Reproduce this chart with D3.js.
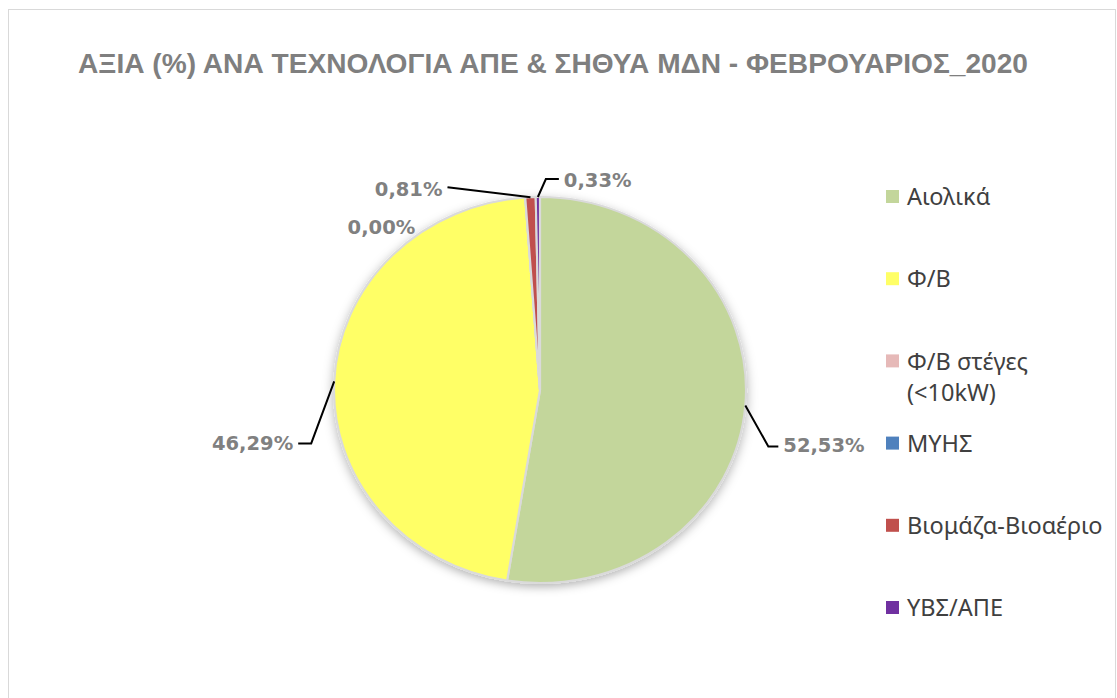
<!DOCTYPE html>
<html>
<head>
<meta charset="utf-8">
<script src="https://cdn.jsdelivr.net/npm/d3@7"></script>
<style>
  body { margin: 0; background: #fff; }
  svg { display: block; }
</style>
</head>
<body>
<script>
// data
var categories = ["Αιολικά", "Φ/Β", "Φ/Β στέγες (<10kW)", "ΜΥΗΣ", "Βιομάζα-Βιοαέριο", "ΥΒΣ/ΑΠΕ"];
var legendLines = [["Αιολικά"], ["Φ/Β"], ["Φ/Β στέγες", "(<10kW)"], ["ΜΥΗΣ"], ["Βιομάζα-Βιοαέριο"], ["ΥΒΣ/ΑΠΕ"]];
var values = [52.53, 46.29, 0.00, 0.00, 0.81, 0.33];
var labelText = ["52,53%", "46,29%", "0,00%", null, "0,81%", "0,33%"];
var colors = ["#c3d69b", "#ffff66", "#e6b9b8", "#4f81bd", "#c0504d", "#7030a0"];
var title = "ΑΞΙΑ (%) ΑΝΑ ΤΕΧΝΟΛΟΓΙΑ ΑΠΕ & ΣΗΘΥΑ ΜΔΝ - ΦΕΒΡΟΥΑΡΙΟΣ_2020";

var W = 1117, H = 698;
var cx = 540, cy = 390, ry = 193, rx = 206;

// label layout: [elbowDx, elbowDy, tailDx, textDx, textDy]
var labelLayout = [
  [23, 41, 10, 15, -1],
  [-23, 62, -13, -18, 0],
  [null, null, null, -110, 30],
  null,
  [-83, -10, 0, -5, 2],
  [8, -18, 13, 18, 1]
];

var svg = d3.select("body").append("svg").attr("width", W).attr("height", H);

var defs = svg.append("defs");
var f = defs.append("filter").attr("id", "shadow")
  .attr("x", "-20%").attr("y", "-20%").attr("width", "140%").attr("height", "140%");
f.append("feDropShadow").attr("dx", 0).attr("dy", 3).attr("stdDeviation", 5)
  .attr("flood-color", "#000").attr("flood-opacity", 0.3);

// chart border
svg.append("rect").attr("x", 8.5).attr("y", 9.5).attr("width", W - 10).attr("height", H - 9)
  .attr("fill", "#fff").attr("stroke", "#d9d9d9").attr("stroke-width", 1);

svg.append("text")
  .attr("x", 553).attr("y", 73)
  .attr("text-anchor", "middle")
  .attr("textLength", 950).attr("lengthAdjust", "spacingAndGlyphs")
  .style("font-family", "'Liberation Sans Narrow', 'Liberation Sans', sans-serif")
  .style("font-weight", "bold")
  .style("font-size", "28px")
  .style("fill", "#7f7f7f")
  .text(title);

var pie = d3.pie().sort(null).value(function(d) { return d; });
var arcs = pie(values);
var arc = d3.arc().innerRadius(0).outerRadius(ry);

var g = svg.append("g")
  .attr("transform", "translate(" + cx + "," + cy + ") scale(" + (rx / ry) + ",1)");

g.append("g").attr("filter", "url(#shadow)")
  .selectAll("path").data(arcs).enter().append("path")
  .attr("d", arc)
  .attr("fill", function(d, i) { return colors[i]; })
  .attr("stroke", "#dadada")
  .attr("stroke-width", 2)
  .attr("stroke-linejoin", "round");

// labels
var lab = svg.append("g");
arcs.forEach(function(a, i) {
  var lay = labelLayout[i];
  if (!lay || labelText[i] == null) return;
  var mid = (a.startAngle + a.endAngle) / 2;
  var ex = cx + rx * Math.sin(mid), ey = cy - ry * Math.cos(mid);
  var tx, ty;
  if (lay[0] != null) {
    var bx = ex + lay[0], by = ey + lay[1];
    var tailX = bx + lay[2];
    lab.append("polyline")
      .attr("points", [[ex, ey], [bx, by], [tailX, by]].map(function(p) { return p.join(","); }).join(" "))
      .attr("fill", "none").attr("stroke", "#000").attr("stroke-width", 2);
    tx = tailX + (lay[3] - lay[2]); ty = by + lay[4];
  } else {
    tx = ex + lay[3]; ty = ey + lay[4];
  }
  var anchor = (lay[0] == null || lay[3] < 0) ? "end" : "start";
  lab.append("text")
    .attr("x", tx).attr("y", ty)
    .attr("dy", "0.35em")
    .attr("text-anchor", anchor)
    .style("font-family", "'DejaVu Sans', sans-serif")
    .style("font-weight", "bold")
    .style("font-size", "19.5px")
    .style("fill", "#808080")
    .text(labelText[i]);
});

// legend
var ly = d3.scalePoint().domain(categories).range([197, 608]);
var leg = svg.append("g").selectAll("g").data(categories).enter().append("g")
  .attr("transform", function(d) { return "translate(886," + ly(d) + ")"; });
leg.append("rect").attr("x", 0).attr("y", -7).attr("width", 13).attr("height", 13)
  .attr("fill", function(d, i) { return colors[i]; });
leg.append("text")
  .attr("x", 21).attr("y", 0)
  .style("font-family", "'Noto Sans', sans-serif")
  .style("font-size", "23.5px")
  .style("fill", "#404040")
  .each(function(d, i) {
    var t = d3.select(this);
    legendLines[i].forEach(function(line, k) {
      t.append("tspan").attr("x", 21).attr("y", k * 31).attr("dy", "0.35em").text(line);
    });
  });
</script>
</body>
</html>
